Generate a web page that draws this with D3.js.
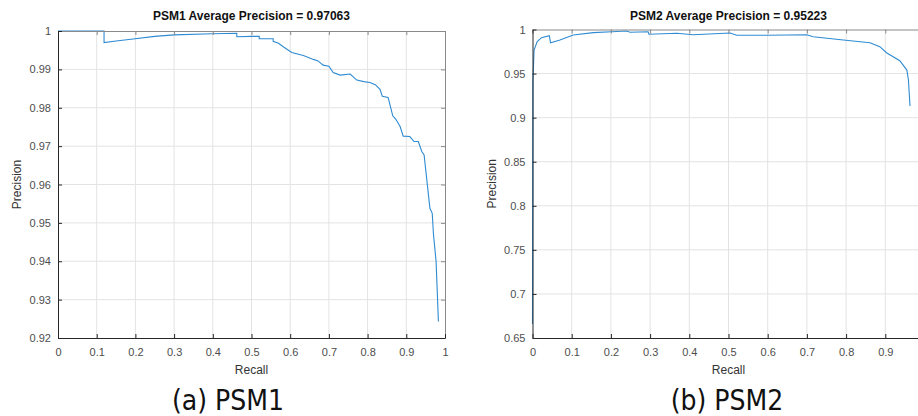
<!DOCTYPE html>
<html>
<head>
<meta charset="utf-8">
<script src="https://cdn.jsdelivr.net/npm/d3@7"></script>
<style>
  body { margin: 0; background: #fff; }
  svg { display: block; }
  .tick text { font-family: "Liberation Sans", Arial, sans-serif; font-size: 11px; fill: #4d4d4d; }
</style>
</head>
<body>
<svg id="chart" width="918" height="416"></svg>
<script>
// PR curve, PSM1
const psm1Recall = [0, 0.119, 0.119, 0.15, 0.194, 0.25, 0.30, 0.40, 0.462, 0.462, 0.50, 0.52, 0.52, 0.556, 0.556, 0.57,
    0.582, 0.604, 0.634, 0.66, 0.672, 0.685, 0.70, 0.711, 0.729, 0.755, 0.772, 0.79, 0.806, 0.82, 0.832, 0.838,
    0.853, 0.86, 0.865, 0.873, 0.884, 0.892, 0.909, 0.92, 0.931, 0.94, 0.946, 0.953, 0.961, 0.967, 0.97, 0.977, 0.983];
const psm1Precision = [1, 1, 0.9970, 0.9974, 0.9979, 0.9986, 0.9990, 0.9993, 0.9994, 0.9985, 0.9986, 0.9986, 0.9980, 0.9980, 0.9973, 0.9968,
    0.9959, 0.9944, 0.9936, 0.9926, 0.9922, 0.9911, 0.9908, 0.9892, 0.9885, 0.9888, 0.9872, 0.9868, 0.9866, 0.9860, 0.9848, 0.9830,
    0.9827, 0.9799, 0.9779, 0.9770, 0.9751, 0.9726, 0.9725, 0.9712, 0.9712, 0.9686, 0.9677, 0.9612, 0.9538, 0.9525, 0.9473, 0.9399, 0.9243];

// PSM2
const psm2Recall = [0, 0.001, 0.004, 0.012, 0.023, 0.043, 0.046, 0.07, 0.104, 0.155, 0.202, 0.240, 0.249, 0.295, 0.297,
    0.368, 0.41, 0.504, 0.521, 0.597, 0.699, 0.716, 0.793, 0.861, 0.886, 0.903, 0.92, 0.937, 0.955, 0.959, 0.963];
const psm2Precision = [0.666, 0.94, 0.9767, 0.9862, 0.9907, 0.993, 0.985, 0.988, 0.9938, 0.9964, 0.9975, 0.9983, 0.9968, 0.9975, 0.9946,
    0.9957, 0.9941, 0.996, 0.9934, 0.9934, 0.9941, 0.9918, 0.9881, 0.985, 0.9805, 0.9737, 0.9691, 0.9646, 0.954, 0.9427, 0.9132];

const xTicks = [0, 0.1, 0.2, 0.3, 0.4, 0.5, 0.6, 0.7, 0.8, 0.9, 1];
const psm1YTicks = [0.92, 0.93, 0.94, 0.95, 0.96, 0.97, 0.98, 0.99, 1];
const psm2YTicks = [0.65, 0.7, 0.75, 0.8, 0.85, 0.9, 0.95, 1];

const panels = [
    { title: "PSM1 Average Precision = 0.97063", caption: "(a) PSM1", recall: psm1Recall, precision: psm1Precision,
      yDomain: [0.92, 1], yTicks: psm1YTicks, xTicks: xTicks,
      box: { left: 58, right: 445, top: 31, bottom: 338 }, captionX: 228 },
    // the right figure is cut at the page edge, so its last tick (1) is not seen
    { title: "PSM2 Average Precision = 0.95223", caption: "(b) PSM2", recall: psm2Recall, precision: psm2Precision,
      yDomain: [0.65, 1], yTicks: psm2YTicks, xTicks: xTicks.slice(0, -1),
      box: { left: 532.5, right: 924.5, top: 29.5, bottom: 338 }, captionX: 727 }
];

const svg = d3.select("#chart");

function drawPanel(p) {
    const b = p.box;
    const x = d3.scaleLinear().domain([0, 1]).range([b.left, b.right]);
    const y = d3.scaleLinear().domain(p.yDomain).range([b.bottom, b.top]);
    const g = svg.append("g");

    // grid
    g.selectAll(".vgrid").data(xTicks.slice(1, -1)).join("line")
        .attr("x1", d => x(d)).attr("x2", d => x(d))
        .attr("y1", b.top).attr("y2", b.bottom)
        .attr("stroke", "#e3e3e3").attr("stroke-width", 1);
    g.selectAll(".hgrid").data(p.yTicks.slice(1, -1)).join("line")
        .attr("x1", b.left).attr("x2", b.right)
        .attr("y1", d => y(d)).attr("y2", d => y(d))
        .attr("stroke", "#e3e3e3").attr("stroke-width", 1);

    // curve
    const pts = p.recall.map((r, i) => [r, p.precision[i]]);
    g.append("path")
        .datum(pts)
        .attr("fill", "none")
        .attr("stroke", "#2f8bd2")
        .attr("stroke-width", 1.1)
        .attr("d", d3.line().x(d => x(d[0])).y(d => y(d[1])));

    // box with inward ticks on all four sides
    g.append("g").attr("transform", `translate(0,${b.top})`)
        .call(d3.axisTop(x).tickValues(p.xTicks).tickSize(-4).tickFormat(""))
        .call(a => a.selectAll("path, line").attr("stroke", "#8a8a8a"));
    g.append("g").attr("transform", `translate(${b.right},0)`)
        .call(d3.axisRight(y).tickValues(p.yTicks).tickSize(-4).tickFormat(""))
        .call(a => a.selectAll("path, line").attr("stroke", "#8a8a8a"));
    g.append("g").attr("transform", `translate(0,${b.bottom})`)
        .call(d3.axisBottom(x).tickValues(p.xTicks).tickSize(-4).tickPadding(10).tickSizeOuter(0).tickFormat(d3.format("")))
        .call(a => a.selectAll("path, line").attr("stroke", "#262626"));
    g.append("g").attr("transform", `translate(${b.left},0)`)
        .call(d3.axisLeft(y).tickValues(p.yTicks).tickSize(-4).tickPadding(7).tickSizeOuter(0).tickFormat(d3.format("")))
        .call(a => a.selectAll("path, line").attr("stroke", "#262626"));
    g.selectAll(".domain").attr("stroke-width", 1);

    // title and axis labels
    const cx = (b.left + b.right) / 2;
    g.append("text").attr("x", cx).attr("y", 20).attr("text-anchor", "middle")
        .attr("font-family", "Liberation Sans, Arial, sans-serif").attr("font-weight", "bold")
        .attr("font-size", 12).attr("fill", "#111").text(p.title);
    g.append("text").attr("x", cx).attr("y", 374).attr("text-anchor", "middle")
        .attr("font-family", "Liberation Sans, Arial, sans-serif").attr("font-size", 12)
        .attr("fill", "#333").text("Recall");
    g.append("text")
        .attr("transform", `translate(${b.left - 37},${(b.top + b.bottom) / 2}) rotate(-90)`)
        .attr("text-anchor", "middle")
        .attr("font-family", "Liberation Sans, Arial, sans-serif").attr("font-size", 12)
        .attr("fill", "#333").text("Precision");

    // caption
    g.append("text").attr("x", p.captionX).attr("y", 410).attr("text-anchor", "middle")
        .attr("font-family", "DejaVu Sans Condensed, DejaVu Sans, sans-serif").attr("font-size", 28)
        .attr("fill", "#111").text(p.caption);
}

panels.forEach(drawPanel);
</script>
</body>
</html>
